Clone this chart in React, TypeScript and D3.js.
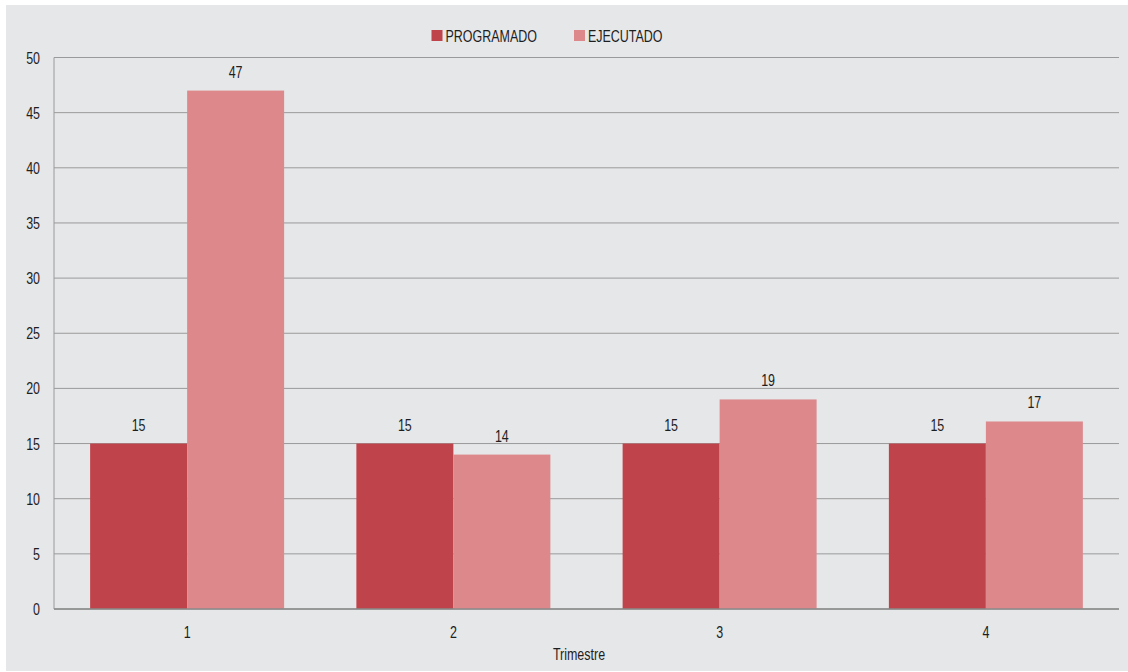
import React from "react";
import * as d3 from "d3";

const categories = ["1", "2", "3", "4"];
const programado = [15, 15, 15, 15];
const ejecutado = [47, 14, 19, 17];
const seriesNames = ["PROGRAMADO", "EJECUTADO"];
const yTicks = [0, 5, 10, 15, 20, 25, 30, 35, 40, 45, 50];
const colors = ["#BF434A", "#DD898C"];

const W = 1128;
const H = 672;
const FONT = "'Liberation Sans', Arial, sans-serif";

function T({ x, y, anchor = "start", size = 16, children }: { x: number; y: number; anchor?: string; size?: number; children: any }) {
  return (
    <g transform={`translate(${x},${y}) scale(0.78,1)`}>
      <text x={0} y={0} textAnchor={anchor as any} fontFamily={FONT} fontSize={size} fill="#1e1e1e">{children}</text>
    </g>
  );
}

export default function App() {
  const left = 54, right = 1119, top = 57.5, bottom = 609;
  const x = d3.scaleBand<string>().domain(categories).range([left, right]).paddingInner(0).paddingOuter(0);
  const inner = d3.scaleBand<string>().domain(seriesNames).range([0, 194]);
  const y = d3.scaleLinear().domain([0, 50]).range([bottom, top]);
  const data = [programado, ejecutado];

  return (
    <svg width={W} height={H} style={{ position: "absolute", left: 0, top: 0 }}>
      <rect x={0} y={0} width={W} height={H} fill="#ffffff" />
      <rect x={6} y={5} width={W - 6} height={666} fill="#E6E7E9" />
      {yTicks.map((t) => (
        <g key={t}>
          <line x1={left} x2={right} y1={y(t)} y2={y(t)} stroke="#9A9A9A" strokeWidth={1} />
          <T x={40} y={y(t) + 6} anchor="end">{t}</T>
        </g>
      ))}
      <line x1={left} x2={left} y1={top} y2={bottom} stroke="#9A9A9A" strokeWidth={1} />
      {categories.map((c, i) => {
        const cx = (x(c) as number) + x.bandwidth() / 2;
        const gx = cx - 97;
        return (
          <g key={c}>
            {data.map((s, j) => {
              const bx = gx + (inner(seriesNames[j]) as number);
              const bw = inner.bandwidth();
              return (
                <g key={j}>
                  <rect x={bx} y={y(s[i])} width={bw} height={bottom - y(s[i])} fill={colors[j]} />
                  <T x={bx + bw / 2} y={y(s[i]) - 13} anchor="middle">{s[i]}</T>
                </g>
              );
            })}
            <T x={cx} y={637.5} anchor="middle">{c}</T>
          </g>
        );
      })}
      <line x1={left} x2={right} y1={bottom} y2={bottom} stroke="#8A8A8A" strokeWidth={1.5} />
      <T x={579} y={660} anchor="middle">Trimestre</T>
      {seriesNames.map((n, j) => {
        const lx = [431.5, 574][j];
        return (
          <g key={n}>
            <rect x={lx} y={30} width={11} height={11} fill={colors[j]} />
            <T x={lx + 14} y={41.5}>{n}</T>
          </g>
        );
      })}
    </svg>
  );
}
